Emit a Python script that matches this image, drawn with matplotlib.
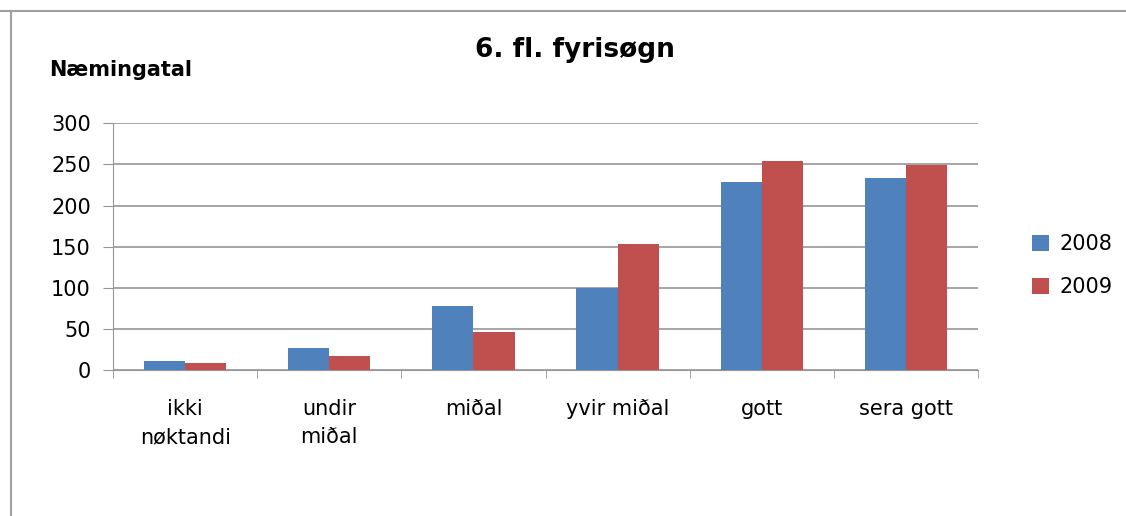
import numpy as np
import matplotlib.pyplot as plt
from matplotlib.lines import Line2D

# data
categories = ["ikki\nnøktandi", "undir\nmiðal", "miðal", "yvir miðal", "gott", "sera gott"]
vals_2008 = [11, 27, 78, 100, 229, 234]
vals_2009 = [9, 17, 47, 153, 254, 249]
series_names = ["2008", "2009"]

blue = "#4F81BD"
red = "#C0504D"
grid_col = "#969696"

fig = plt.figure(figsize=(11.26, 5.16), dpi=100)
ax = fig.add_axes([0.1004, 0.2824, 0.7682, 0.4786])

x = np.arange(len(categories))
w = 0.2857
ax.bar(x - w / 2, vals_2008, w, color=blue, label=series_names[0], zorder=3)
ax.bar(x + w / 2, vals_2009, w, color=red, label=series_names[1], zorder=3)

ax.set_xlim(-0.5, len(categories) - 0.5)
ax.set_ylim(0, 300)
ax.set_yticks(range(0, 301, 50))
ax.yaxis.grid(True, color=grid_col, linewidth=1.2, zorder=0)

for s in ["top", "right"]:
    ax.spines[s].set_visible(False)
ax.spines["left"].set_color(grid_col)
ax.spines["bottom"].set_color(grid_col)

ax.tick_params(axis="y", length=7, color=grid_col, labelsize=15, pad=9)
ax.set_xticks(x)
ax.set_xticklabels(categories, fontsize=15, linespacing=1.5)
ax.tick_params(axis="x", length=0, pad=21)
# tick marks between categories
ax.set_xticks(np.arange(-0.5, len(categories), 1), minor=True)
ax.tick_params(axis="x", which="minor", length=6, color=grid_col)

fig.text(0.511, 0.903, "6. fl. fyrisøgn", ha="center", va="center",
         fontsize=19, fontweight="bold", family="DejaVu Sans")
fig.text(0.044, 0.864, "Næmingatal", ha="left", va="center",
         fontsize=15, fontweight="bold", family="DejaVu Sans")

leg = fig.legend(loc="center left", bbox_to_anchor=(0.9, 0.485), frameon=False,
                 fontsize=15, handlelength=0.8, handleheight=0.8,
                 handletextpad=0.5, labelspacing=1.1)

# chart border (top and left)
fig.add_artist(Line2D([0.0, 1.0], [0.9787, 0.9787], color="#A0A0A0", lw=1.5,
                      transform=fig.transFigure))
fig.add_artist(Line2D([0.0098, 0.0098], [0.0, 0.9787], color="#A0A0A0", lw=1.5,
                      transform=fig.transFigure))

fig.savefig("out.png", dpi=100)
